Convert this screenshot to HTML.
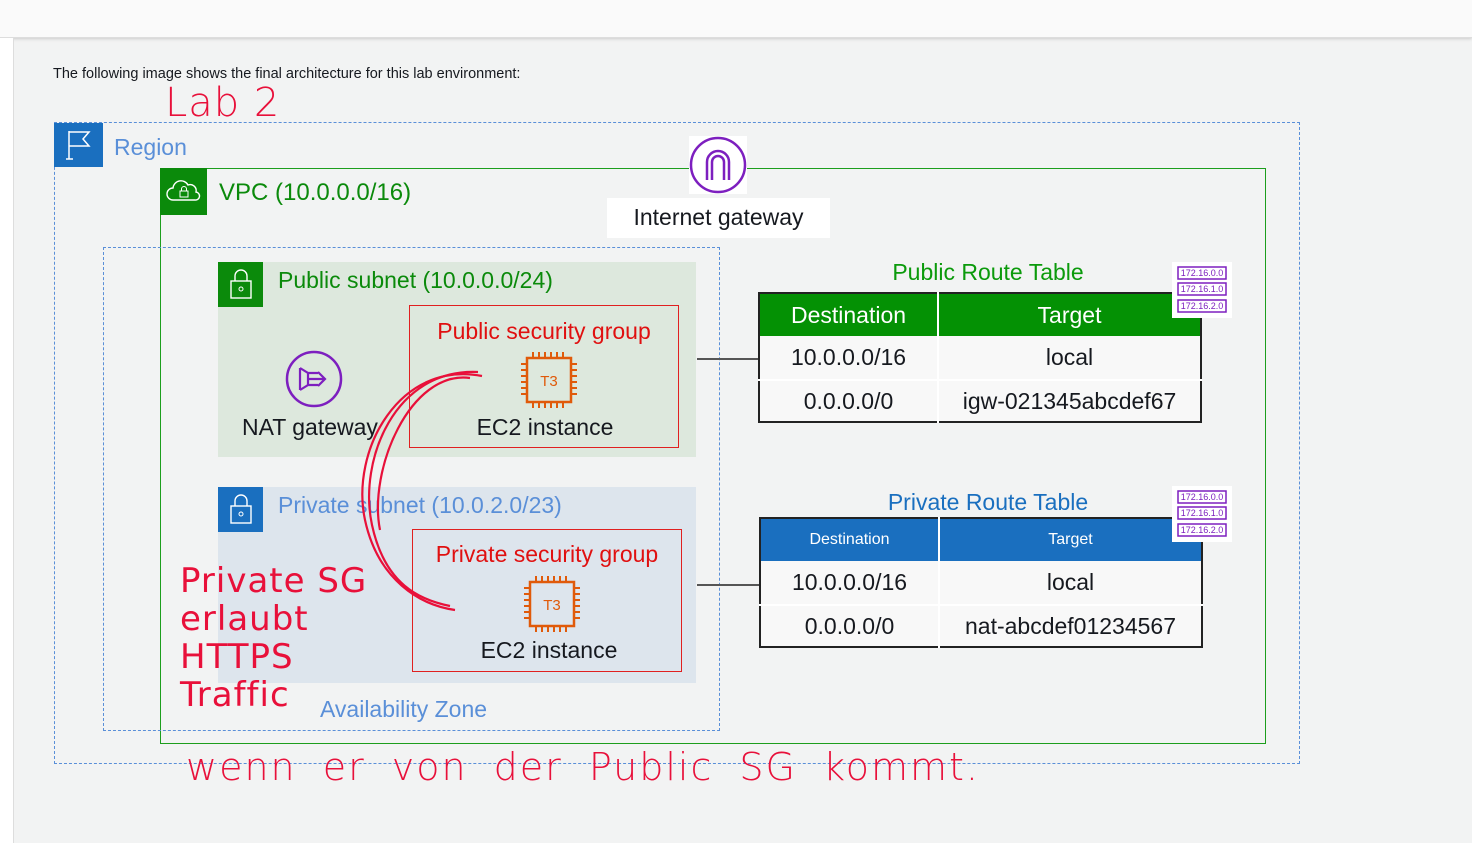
<!DOCTYPE html>
<html><head><meta charset="utf-8"><style>
body{margin:0;width:1472px;height:843px;background:#f2f3f3;font-family:"Liberation Sans","DejaVu Sans",sans-serif;position:relative;overflow:hidden}
.a{position:absolute}
.hw{position:absolute;color:#e8103a;font-family:"DejaVu Sans",sans-serif;font-weight:300;letter-spacing:1px}
table{border-collapse:collapse}
</style></head><body>
<div class="a" style="left:0;top:0;width:1472px;height:37px;background:#fafafa;border-bottom:1px solid #ddd;box-shadow:0 1px 3px #ccc"></div>
<div class="a" style="left:0;top:38px;width:13px;height:805px;background:#fff;border-right:1px solid #ddd"></div>
<div class="a" style="left:53px;top:66px;font-size:14.5px;color:#16191f">The following image shows the final architecture for this lab environment:</div>
<div class="hw" style="left:165px;top:80px;font-size:40px">Lab 2</div>

<div class="a" style="left:54px;top:122px;width:1244px;height:640px;border:1px dashed #5a8fd8"></div>
<div class="a" style="left:54px;top:123px;width:49px;height:44px;background:#1a6fbf"></div>
<svg class="a" style="left:64px;top:128px" width="30" height="34"><path d="M5 3v28M2 31h7M5 4h20l-6 7 6 7H5" fill="none" stroke="#fff" stroke-width="1.5"/></svg>
<div class="a" style="left:114px;top:134px;font-size:23px;color:#5a8fd8">Region</div>

<div class="a" style="left:160px;top:168px;width:1104px;height:574px;border:1.5px solid #1d9e1d"></div>
<div class="a" style="left:160px;top:168px;width:47px;height:47px;background:#0b8a0b"></div>
<svg class="a" style="left:166px;top:178px" width="36" height="26"><path d="M7 22a6 6 0 0 1 0-12a8 8 0 0 1 15-3a6 6 0 0 1 8 7a4 4 0 0 1-1 8z" fill="none" stroke="#fff" stroke-width="1.4"/><rect x="14" y="13" width="8" height="6" fill="none" stroke="#fff"/><path d="M15.5 13v-2a2.5 2.5 0 0 1 5 0v2" fill="none" stroke="#fff"/></svg>
<div class="a" style="left:219px;top:179px;font-size:24px;color:#0b8a0b">VPC (10.0.0.0/16)</div>

<div class="a" style="left:103px;top:247px;width:615px;height:482px;border:1px dashed #5a8fd8"></div>
<div class="a" style="left:320px;top:696px;font-size:23px;color:#5a8fd8">Availability Zone</div>

<div class="a" style="left:607px;top:198px;width:223px;height:40px;background:#fff"></div>
<div class="a" style="left:689px;top:136px;width:58px;height:58px;background:#fff"></div>
<svg class="a" style="left:689px;top:136px" width="58" height="58"><circle cx="29" cy="29" r="27" fill="none" stroke="#7d1fbf" stroke-width="2.5"/><path d="M18 44V26a11 11 0 0 1 22 0v18M23 44V26a6 6 0 0 1 12 0v18" fill="none" stroke="#7d1fbf" stroke-width="2.5"/></svg>
<div class="a" style="left:607px;top:204px;width:223px;text-align:center;font-size:23px;color:#16191f">Internet gateway</div>

<div class="a" style="left:218px;top:262px;width:478px;height:195px;background:#dde8dd"></div>
<div class="a" style="left:218px;top:262px;width:45px;height:45px;background:#0b8a0b"></div>
<svg class="a" style="left:228px;top:268px" width="26" height="34"><rect x="3" y="13" width="20" height="17" fill="none" stroke="#fff" stroke-width="1.4"/><path d="M7 13V8a6 6 0 0 1 12 0v5" fill="none" stroke="#fff" stroke-width="1.4"/><circle cx="13" cy="21" r="2" fill="none" stroke="#fff"/></svg>
<div class="a" style="left:278px;top:267px;font-size:23px;color:#0b8a0b">Public subnet (10.0.0.0/24)</div>
<svg class="a" style="left:284px;top:350px" width="60" height="60"><circle cx="30" cy="29" r="27" fill="none" stroke="#7d1fbf" stroke-width="2.5"/><path d="M16 18v22M16 18l8 5v12l-8 5M24 29h16M34 22l7 7-7 7M24 23h10M24 35h10" fill="none" stroke="#7d1fbf" stroke-width="2.2"/></svg>
<div class="a" style="left:242px;top:414px;font-size:23px;color:#16191f">NAT gateway</div>
<div class="a" style="left:409px;top:305px;width:268px;height:141px;border:1.5px solid #e02020"></div>
<div class="a" style="left:409px;top:318px;width:270px;text-align:center;font-size:23px;color:#e01010">Public security group</div>
<svg class="a" style="left:520px;top:352px" width="60" height="56"><rect x="7" y="6" width="44" height="44" fill="none" stroke="#e05a0a" stroke-width="2.5"/><path d="M13 0v6M19 0v6M25 0v6M31 0v6M37 0v6M43 0v6M13 50v6M19 50v6M25 50v6M31 50v6M37 50v6M43 50v6M1 12h6M1 18h6M1 24h6M1 30h6M1 36h6M1 42h6M51 12h6M51 18h6M51 24h6M51 30h6M51 36h6M51 42h6" stroke="#e05a0a" stroke-width="2"/><text x="29" y="34" text-anchor="middle" font-size="15" fill="#e05a0a" font-family="Liberation Sans">T3</text></svg>
<div class="a" style="left:409px;top:414px;width:272px;text-align:center;font-size:23px;color:#16191f">EC2 instance</div>

<div class="a" style="left:218px;top:487px;width:478px;height:196px;background:#dde5ed"></div>
<div class="a" style="left:218px;top:487px;width:45px;height:45px;background:#1a6fbf"></div>
<svg class="a" style="left:228px;top:493px" width="26" height="34"><rect x="3" y="13" width="20" height="17" fill="none" stroke="#fff" stroke-width="1.4"/><path d="M7 13V8a6 6 0 0 1 12 0v5" fill="none" stroke="#fff" stroke-width="1.4"/><circle cx="13" cy="21" r="2" fill="none" stroke="#fff"/></svg>
<div class="a" style="left:278px;top:492px;font-size:23px;color:#5a8fd8">Private subnet (10.0.2.0/23)</div>
<div class="a" style="left:412px;top:529px;width:268px;height:141px;border:1.5px solid #e02020"></div>
<div class="a" style="left:412px;top:541px;width:270px;text-align:center;font-size:23px;color:#e01010">Private security group</div>
<svg class="a" style="left:523px;top:576px" width="60" height="56"><rect x="7" y="6" width="44" height="44" fill="none" stroke="#e05a0a" stroke-width="2.5"/><path d="M13 0v6M19 0v6M25 0v6M31 0v6M37 0v6M43 0v6M13 50v6M19 50v6M25 50v6M31 50v6M37 50v6M43 50v6M1 12h6M1 18h6M1 24h6M1 30h6M1 36h6M1 42h6M51 12h6M51 18h6M51 24h6M51 30h6M51 36h6M51 42h6" stroke="#e05a0a" stroke-width="2"/><text x="29" y="34" text-anchor="middle" font-size="15" fill="#e05a0a" font-family="Liberation Sans">T3</text></svg>
<div class="a" style="left:412px;top:637px;width:274px;text-align:center;font-size:23px;color:#16191f">EC2 instance</div>

<div class="a" style="left:697px;top:358px;width:61px;height:2px;background:#555"></div>
<div class="a" style="left:697px;top:584px;width:62px;height:2px;background:#555"></div>

<div class="a" style="left:758px;top:259px;width:460px;text-align:center;font-size:23px;color:#0b9a0b">Public Route Table</div>
<table class="a" style="left:758px;top:292px;width:444px;border:2px solid #222;font-size:23px;color:#16191f;text-align:center">
<tr style="background:#049104;color:#fff;height:43px"><td style="border-right:2px solid #fff;width:175px">Destination</td><td>Target</td></tr>
<tr style="background:#f8f8f8;height:44px"><td style="border-right:2px solid #fff;border-bottom:2px solid #fff">10.0.0.0/16</td><td style="border-bottom:2px solid #fff">local</td></tr>
<tr style="background:#f8f8f8;height:42px"><td style="border-right:2px solid #fff">0.0.0.0/0</td><td>igw-021345abcdef67</td></tr></table>

<div class="a" style="left:758px;top:489px;width:460px;text-align:center;font-size:23px;color:#1a6fbf">Private Route Table</div>
<table class="a" style="left:759px;top:517px;width:444px;border:2px solid #222;font-size:23px;color:#16191f;text-align:center">
<tr style="background:#1a6fbf;color:#fff;height:43px;font-size:16px"><td style="border-right:2px solid #fff;width:175px">Destination</td><td>Target</td></tr>
<tr style="background:#f8f8f8;height:44px"><td style="border-right:2px solid #fff;border-bottom:2px solid #fff">10.0.0.0/16</td><td style="border-bottom:2px solid #fff">local</td></tr>
<tr style="background:#f8f8f8;height:42px"><td style="border-right:2px solid #fff">0.0.0.0/0</td><td>nat-abcdef01234567</td></tr></table>

<svg class="a" style="left:1172px;top:262px" width="60" height="56"><rect width="60" height="56" fill="#fff"/><g fill="none" stroke="#7d1fbf" stroke-width="1.5"><rect x="6" y="5" width="48" height="12"/><rect x="6" y="21" width="48" height="12"/><rect x="6" y="38" width="48" height="12"/></g><g font-size="9" fill="#7d1fbf" font-family="Liberation Sans" text-anchor="middle"><text x="30" y="14">172.16.0.0</text><text x="30" y="30">172.16.1.0</text><text x="30" y="47">172.16.2.0</text></g></svg>
<svg class="a" style="left:1172px;top:486px" width="60" height="56"><rect width="60" height="56" fill="#fff"/><g fill="none" stroke="#7d1fbf" stroke-width="1.5"><rect x="6" y="5" width="48" height="12"/><rect x="6" y="21" width="48" height="12"/><rect x="6" y="38" width="48" height="12"/></g><g font-size="9" fill="#7d1fbf" font-family="Liberation Sans" text-anchor="middle"><text x="30" y="14">172.16.0.0</text><text x="30" y="30">172.16.1.0</text><text x="30" y="47">172.16.2.0</text></g></svg>

<svg class="a" style="left:0;top:0" width="1472" height="843"><g fill="none" stroke="#e8103a" stroke-width="2.2"><path d="M482 376C400 360 350 450 365 520C378 580 420 605 455 610"/><path d="M478 372C395 368 358 460 372 525C385 585 420 600 450 606"/><path d="M470 378C410 370 368 470 380 530"/></g></svg>

<div class="hw" style="left:180px;top:562px;font-size:34px;line-height:38px;font-weight:normal">Private SG<br>erlaubt<br>HTTPS<br>Traffic</div>
<div class="hw" style="left:186px;top:745px;font-size:38px;letter-spacing:2px;word-spacing:12px">wenn er von der Public SG kommt.</div>
</body></html>
